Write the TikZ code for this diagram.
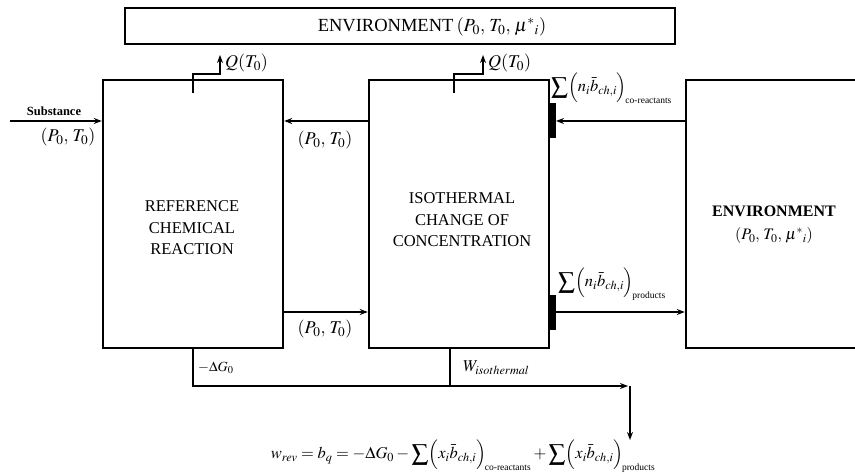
\documentclass[tikz,border=0pt]{standalone}
\usepackage{mathptmx}
\usepackage{fontspec}
\setmainfont{Liberation Serif}
\usetikzlibrary{arrows.meta,calc}
\newcommand{\tinysub}[1]{\mbox{\fontsize{9.5}{10}\selectfont #1}}
\begin{document}
\begin{tikzpicture}[x=1pt,y=-1pt,
  box/.style={draw,line width=2.4pt,minimum width=180pt,minimum height=268pt,inner sep=0pt},
  boxtext/.style={inner sep=0pt,align=center,font=\fontsize{16.5}{21.5}\selectfont},
  conn/.style={line width=1.6pt},
  arr/.style={line width=1.6pt,-{Stealth[length=8pt,width=6pt]}},
  lbl/.style={inner sep=0pt,font=\fontsize{18}{20}\selectfont},
  slbl/.style={inner sep=0pt,font=\fontsize{16.5}{20}\selectfont}]
\useasboundingbox (0,0) rectangle (855,476);
% boxes
\node[box,minimum width=550pt,minimum height=36pt] (envtop) at (400,26) {};
\node[inner sep=0pt,font=\fontsize{18.5}{20}\selectfont] (envtoptext) at (432,27) {ENVIRONMENT\,$(P_0,\,T_0,\,\mu^*{}_{i})$};
\node[box] (ref) at (193,214) {};
\node[boxtext] (reftext) at (192,228) {REFERENCE\\CHEMICAL\\REACTION};
\node[box] (iso) at (459,214) {};
\node[boxtext] (isotext) at (462,220) {ISOTHERMAL\\CHANGE OF\\CONCENTRATION};
\node[box,minimum width=190pt] (envR) at (781,214) {};
\node[inner sep=0pt,align=center,font=\fontsize{16}{23}\selectfont] (envRtext) at (774,225) {\textbf{ENVIRONMENT}\\$(P_0,\,T_0,\,\mu^*{}_{i})$};
% heat arrows
\coordinate (q1s) at (193,93);
\coordinate (q1e) at (220,55);
\draw[arr] (q1s) |- (220,74) -- (q1e);
\node[lbl,anchor=west] (q1) at (225,63) {$Q(T_0)$};
\coordinate (q2s) at (454,93);
\coordinate (q2e) at (483,55);
\draw[arr] (q2s) |- (483,74) -- (q2e);
\node[lbl,anchor=west] (q2) at (488,63) {$Q(T_0)$};
% substance
\coordinate (subin) at (10,121);
\draw[arr] (subin) -- (subin -| ref.west);
\node[inner sep=0pt,font=\fontsize{12.5}{14}\selectfont\bfseries] (subst) at (54,111) {Substance};
\node[lbl] (p1) at (68,137) {$(P_0,\,T_0)$};
% between ref and iso
\draw[arr] (iso.west |- subin) -- (ref.east |- subin);
\node[lbl] (p2) at (325,140) {$(P_0,\,T_0)$};
\coordinate (low) at (283,312);
\draw[arr] (ref.east |- low) -- (iso.west |- low);
\node[lbl] (p3) at (325,329) {$(P_0,\,T_0)$};
% bars
\fill (549,103) rectangle (556,138);
\fill (549,295) rectangle (556,330);
\coordinate (cobar) at (556,121);
\coordinate (prbar) at (556,312);
\draw[arr] (envR.west |- cobar) -- (cobar);
\draw[arr] (prbar) -- (envR.west |- prbar);
\node[slbl,anchor=west] (cor) at (551,88) {$\displaystyle\sum\!\Big(n_i\bar{b}_{ch,i}\Big)_{\!\tinysub{co-reactants}}$};
\node[slbl,anchor=west] (pro) at (558,284) {$\displaystyle\sum\!\Big(n_i\bar{b}_{ch,i}\Big)_{\!\tinysub{products}}$};
% work lines
\coordinate (wj) at (193,386);
\coordinate (wr) at (628,386);
\coordinate (wd1) at (630,386);
\coordinate (wd2) at (630,440);
\draw[arr] (ref.south) -- (wj) -- (wr);
\draw[arr] (wd1) -- (wd2);
\coordinate (wi) at (450,386);
\draw[conn] (iso.south -| wi) -- (wi);
\node[inner sep=0pt,anchor=west,font=\fontsize{14}{16}\selectfont] (dg) at (198,368) {$-\Delta G_0$};
\node[slbl,anchor=west] (wiso) at (463,368) {$W_{isothermal}$};
\node[slbl] (eq) at (463,456) {$w_{rev}=b_q=-\Delta G_0-\displaystyle\sum\!\Big(x_i\bar{b}_{ch,i}\Big)_{\!\tinysub{co-reactants}}+\sum\!\Big(x_i\bar{b}_{ch,i}\Big)_{\!\tinysub{products}}$};
\end{tikzpicture}
\end{document}
